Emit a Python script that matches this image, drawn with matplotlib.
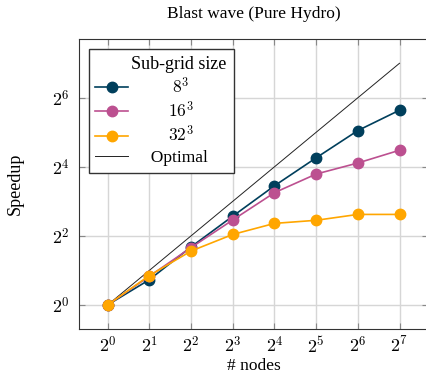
import numpy as np
import matplotlib
matplotlib.use('Agg')
from matplotlib import pyplot as plt

plt.rcParams['font.family'] = ['Liberation Serif', 'DejaVu Serif']
plt.rcParams['mathtext.fontset'] = 'cm'

# data: speedup read as powers of 2
nodes = [1, 2, 4, 8, 16, 32, 64, 128]
exp8 = [0, 0.73, 1.68, 2.57, 3.45, 4.26, 5.05, 5.64]
exp16 = [0, 0.83, 1.66, 2.46, 3.25, 3.79, 4.11, 4.48]
exp32 = [0, 0.85, 1.56, 2.04, 2.36, 2.45, 2.62, 2.62]
labels = ['       $8^3$', '      $16^3$', '      $32^3$']
colors = ['#003f5c', '#bc5090', '#ffa600']

fig = plt.figure(figsize=(4.27, 3.76), dpi=100)
ax = fig.add_axes([0.185, 0.125, 0.818, 0.771])

for e, lab, c in zip([exp8, exp16, exp32], labels, colors):
    ax.plot(nodes, 2.0 ** np.array(e), '-o', color=c, lw=1.2, ms=7.5,
            label=lab, zorder=3)
ax.plot(nodes, nodes, color='#222222', lw=0.7, label='  Optimal', zorder=2)

ax.set_xscale('log', base=2)
ax.set_yscale('log', base=2)
ax.set_xlim(2 ** -0.69, 2 ** 7.69)
ax.set_ylim(2 ** -0.7, 2 ** 7.7)
ax.set_xticks([2 ** i for i in range(8)])
ax.set_xticklabels([r'$2^{%d}$' % i for i in range(8)])
ax.set_yticks([2 ** i for i in range(0, 8, 2)])
ax.set_yticklabels([r'$2^{%d}$' % i for i in range(0, 8, 2)])
ax.minorticks_off()
ax.tick_params(direction='in', length=4, color='#888888', labelsize=13,
               top=True, right=True, pad=7)
ax.tick_params(axis='x', pad=5)
ax.grid(True, color='#d6d6d6', lw=1)
ax.set_axisbelow(True)
for s in ax.spines.values():
    s.set_color('#333333')

ax.set_title('Blast wave (Pure Hydro)', fontsize=12.5, pad=15)
ax.set_xlabel('# nodes', fontsize=12.5, labelpad=1)
ax.set_ylabel('Speedup', fontsize=13, labelpad=20)

leg = ax.legend(title='        Sub-grid size', loc='upper left', fontsize=12.5,
                title_fontsize=13, fancybox=False, edgecolor='#333333',
                framealpha=1, borderaxespad=0.55, handlelength=1.9,
                labelspacing=0.24, borderpad=0.4, alignment='left')
leg.get_frame().set_linewidth(1)

fig.savefig('out.png', dpi=100)
